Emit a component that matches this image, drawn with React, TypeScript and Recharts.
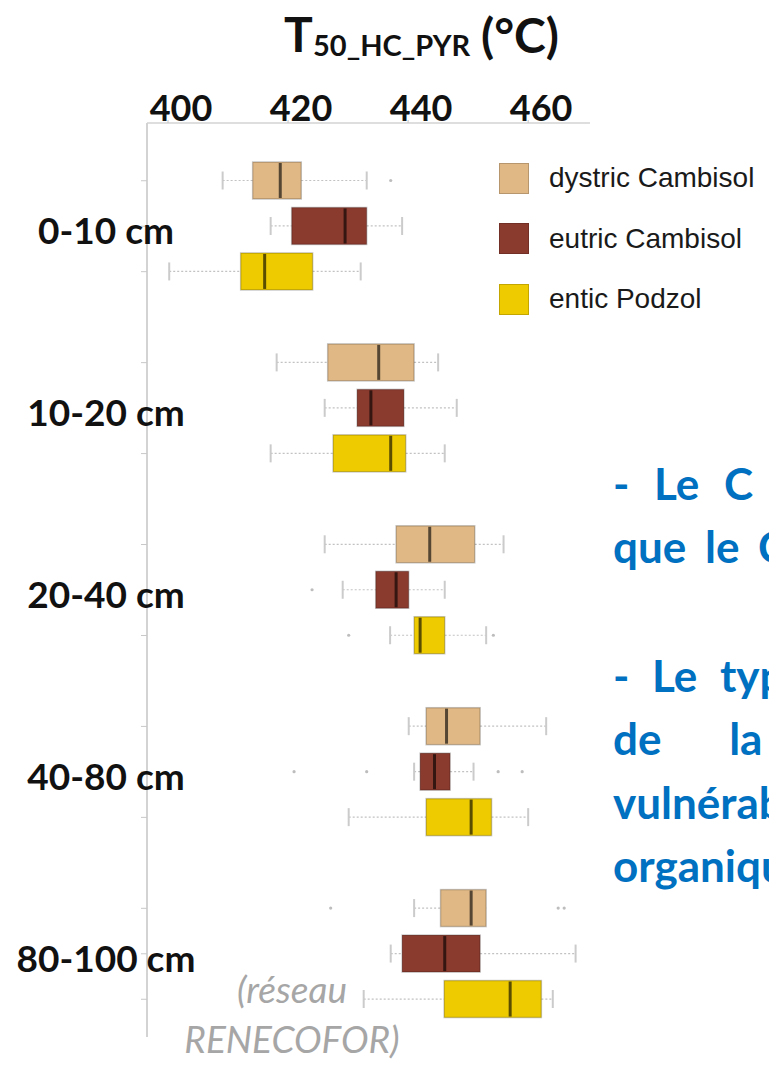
import React from 'react';
import { ComposedChart, Bar, XAxis, YAxis, Legend } from 'recharts';

const DEPTHS = ['0-10 cm', '10-20 cm', '20-40 cm', '40-80 cm', '80-100 cm'];
const SOILS = ['dystric Cambisol', 'eutric Cambisol', 'entic Podzol'];
const SOIL_COLORS = ['#e0b886', '#8b3a2e', '#eecb00'];
const X_TICKS = [400, 420, 440, 460];

// T50 summaries in °C: one row per soil (order of SOILS), one column per depth
const WHISKER_LOW = [
  [409.1, 418.1, 426.1, 440.1, 441.0],
  [417.1, 426.1, 429.1, 441.0, 437.1],
  [400.2, 417.1, 437.0, 430.1, 432.6],
];
const Q1 = [
  [414.1, 426.6, 438.0, 443.0, 445.4],
  [420.6, 431.5, 434.6, 442.0, 439.0],
  [412.1, 427.5, 441.0, 443.0, 446.0],
];
const MEDIAN = [
  [418.7, 435.1, 443.6, 446.4, 450.5],
  [429.5, 433.8, 438.0, 444.4, 446.1],
  [416.1, 437.1, 442.0, 450.5, 457.0],
];
const Q3 = [
  [422.2, 441.0, 451.1, 452.0, 453.0],
  [433.1, 439.3, 440.1, 447.0, 452.0],
  [424.1, 439.6, 446.1, 453.9, 462.2],
];
const WHISKER_HIGH = [
  [433.1, 445.0, 455.9, 463.0, 453.0],
  [439.0, 448.1, 446.1, 450.9, 467.9],
  [432.1, 446.1, 453.0, 460.0, 464.1],
];
const OUTLIERS = [
  [[437.1], [], [], [], [427.1, 465.0, 466.0]],
  [[], [], [424.0], [421.0, 433.1, 455.0, 459.0], []],
  [[], [], [430.1, 454.2], [], []],
];

const NOTE_LINES = ['- Le C', 'que le C', '- Le type', 'de la', 'vulnérabilité', 'organique'];
const NOTE_WORD_SPACING = [14, 8, 12, 57, 0, 0];
const SOURCE_LINES = ['(réseau', 'RENECOFOR)'];

const FONT = 'Lato, "Open Sans", sans-serif';

type Row = {
  key: string;
  depth?: number;
  soil?: number;
  range: [number, number] | null;
  low?: number;
  q1?: number;
  med?: number;
  q3?: number;
  high?: number;
  outliers?: number[];
};

// three boxes per depth, with an empty slot between depth groups
const ROWS: Row[] = [];
DEPTHS.forEach((_, d) => {
  SOILS.forEach((__, s) => {
    ROWS.push({
      key: `${d}-${s}`,
      depth: d,
      soil: s,
      range: [WHISKER_LOW[s][d], WHISKER_HIGH[s][d]],
      low: WHISKER_LOW[s][d],
      q1: Q1[s][d],
      med: MEDIAN[s][d],
      q3: Q3[s][d],
      high: WHISKER_HIGH[s][d],
      outliers: OUTLIERS[s][d],
    });
  });
  if (d < DEPTHS.length - 1) ROWS.push({ key: `gap-${d}`, range: null });
});

const BoxShape = (props: any) => {
  const { x, y, width, height, payload } = props;
  if (!payload || payload.soil == null || !isFinite(x) || !isFinite(width)) return null;
  const { low, q1, med, q3, high, outliers, soil } = payload as any;
  // the bar spans low..high on the linear x scale
  const k = width / (high - low);
  const px = (v: number) => x + (v - low) * k;
  const cy = y + height / 2;
  const whisker = { stroke: '#c2c2c2', strokeWidth: 1.2, strokeDasharray: '2 2' };
  const cap = { stroke: '#cbcbcb', strokeWidth: 2 };
  return (
    <g>
      <line x1={px(low)} x2={px(q1)} y1={cy} y2={cy} {...whisker} />
      <line x1={px(q3)} x2={px(high)} y1={cy} y2={cy} {...whisker} />
      {low < q1 && <line x1={px(low)} x2={px(low)} y1={cy - 9} y2={cy + 9} {...cap} />}
      {high > q3 && <line x1={px(high)} x2={px(high)} y1={cy - 9} y2={cy + 9} {...cap} />}
      <rect
        x={px(q1)}
        y={y}
        width={px(q3) - px(q1)}
        height={height}
        fill={SOIL_COLORS[soil]}
        stroke="rgba(0,0,0,0.22)"
        strokeWidth={1.5}
      />
      <line x1={px(med)} x2={px(med)} y1={y + 1} y2={y + height - 1} stroke="rgba(0,0,0,0.62)" strokeWidth={3} />
      {(outliers as number[]).map((v, i) => (
        <circle key={i} cx={px(v)} cy={cy} r={1.6} fill="#bdbdbd" />
      ))}
    </g>
  );
};

const XTick = (props: any) => {
  const { x, y, payload } = props;
  return (
    <text x={x + 13} y={y + 1} textAnchor="middle" fontFamily={FONT} fontWeight={700} fontSize={36} fill="#111">
      {payload.value}
    </text>
  );
};

const YTick = (props: any) => {
  const { x, y, payload } = props;
  const row = ROWS.find((r) => r.key === payload.value);
  if (!row || row.soil == null) return null;
  return (
    <g>
      <line x1={x - 6} x2={x} y1={y} y2={y} stroke="#c8c8c8" strokeWidth={1} />
      {row.soil === 1 && (
        <text x={106} y={y + 18} textAnchor="middle" fontFamily={FONT} fontWeight={700} fontSize={37} fill="#111">
          {DEPTHS[row.depth as number]}
        </text>
      )}
    </g>
  );
};

const SoilLegend = () => (
  <div style={{ fontFamily: '"Liberation Sans", Arial, sans-serif' }}>
    {SOILS.map((name, i) => (
      <div key={name} style={{ display: 'flex', alignItems: 'center', height: 60.5 }}>
        <div
          style={{
            width: 30,
            height: 31,
            background: SOIL_COLORS[i],
            border: '1.5px solid rgba(0,0,0,0.18)',
            boxSizing: 'border-box',
            marginRight: 20,
          }}
        />
        <span style={{ fontSize: 28, color: '#1a1a1a', whiteSpace: 'nowrap' }}>{name}</span>
      </div>
    ))}
  </div>
);

export default function App() {
  return (
    <div
      style={{
        position: 'absolute',
        left: 0,
        top: 0,
        width: 769,
        height: 1067,
        overflow: 'hidden',
        background: '#fff',
      }}
    >
      <ComposedChart
        width={769}
        height={1067}
        layout="vertical"
        data={ROWS}
        margin={{ top: 83, right: 179, bottom: 30, left: 0 }}
      >
        <XAxis
          type="number"
          orientation="top"
          domain={[396.5, 470.3]}
          allowDataOverflow
          ticks={X_TICKS}
          height={40}
          axisLine={{ stroke: '#d3d3d3', strokeWidth: 1.5 }}
          tickLine={{ stroke: '#c4c4c4' }}
          tickSize={3}
          tickMargin={0}
          tick={(p: any) => <XTick {...p} />}
        />
        <YAxis
          type="category"
          dataKey="key"
          width={147}
          interval={0}
          padding={{ top: 35, bottom: 15 }}
          axisLine={{ stroke: '#d3d3d3', strokeWidth: 2 }}
          tickLine={false}
          tickSize={0}
          tickMargin={0}
          tick={(p: any) => <YTick {...p} />}
        />
        <Legend
          layout="vertical"
          align="center"
          verticalAlign="middle"
          content={() => <SoilLegend />}
          wrapperStyle={{ position: 'absolute', left: 499, top: 148, width: 270 }}
        />
        <Bar dataKey="range" barSize={37} shape={(p: any) => <BoxShape {...p} />} isAnimationActive={false} />
      </ComposedChart>

      <svg
        width={769}
        height={1067}
        style={{ position: 'absolute', left: 0, top: 0, pointerEvents: 'none' }}
        fontFamily={FONT}
      >
        <text x={284} y={52} fontSize={48} fontWeight={700} fill="#111">T</text>
        <text x={313} y={56} fontSize={29} fontWeight={700} fill="#111">50_HC_PYR</text>
        <text x={481} y={53} fontSize={48} fontWeight={700} fill="#111">(°C)</text>

        {NOTE_LINES.map((line, i) => (
          <text
            key={line}
            x={613}
            y={[500, 563, 692, 755, 819, 882][i]}
            fontSize={44}
            fontWeight={700}
            fill="#0070c0"
            style={{ wordSpacing: NOTE_WORD_SPACING[i], whiteSpace: 'pre' }}
          >
            {line}
          </text>
        ))}

        {SOURCE_LINES.map((line, i) => (
          <text
            key={line}
            x={292}
            y={1003 + i * 50}
            textAnchor="middle"
            fontSize={37}
            fontStyle="italic"
            fill="#a6a6a6"
          >
            {line}
          </text>
        ))}
      </svg>
    </div>
  );
}
